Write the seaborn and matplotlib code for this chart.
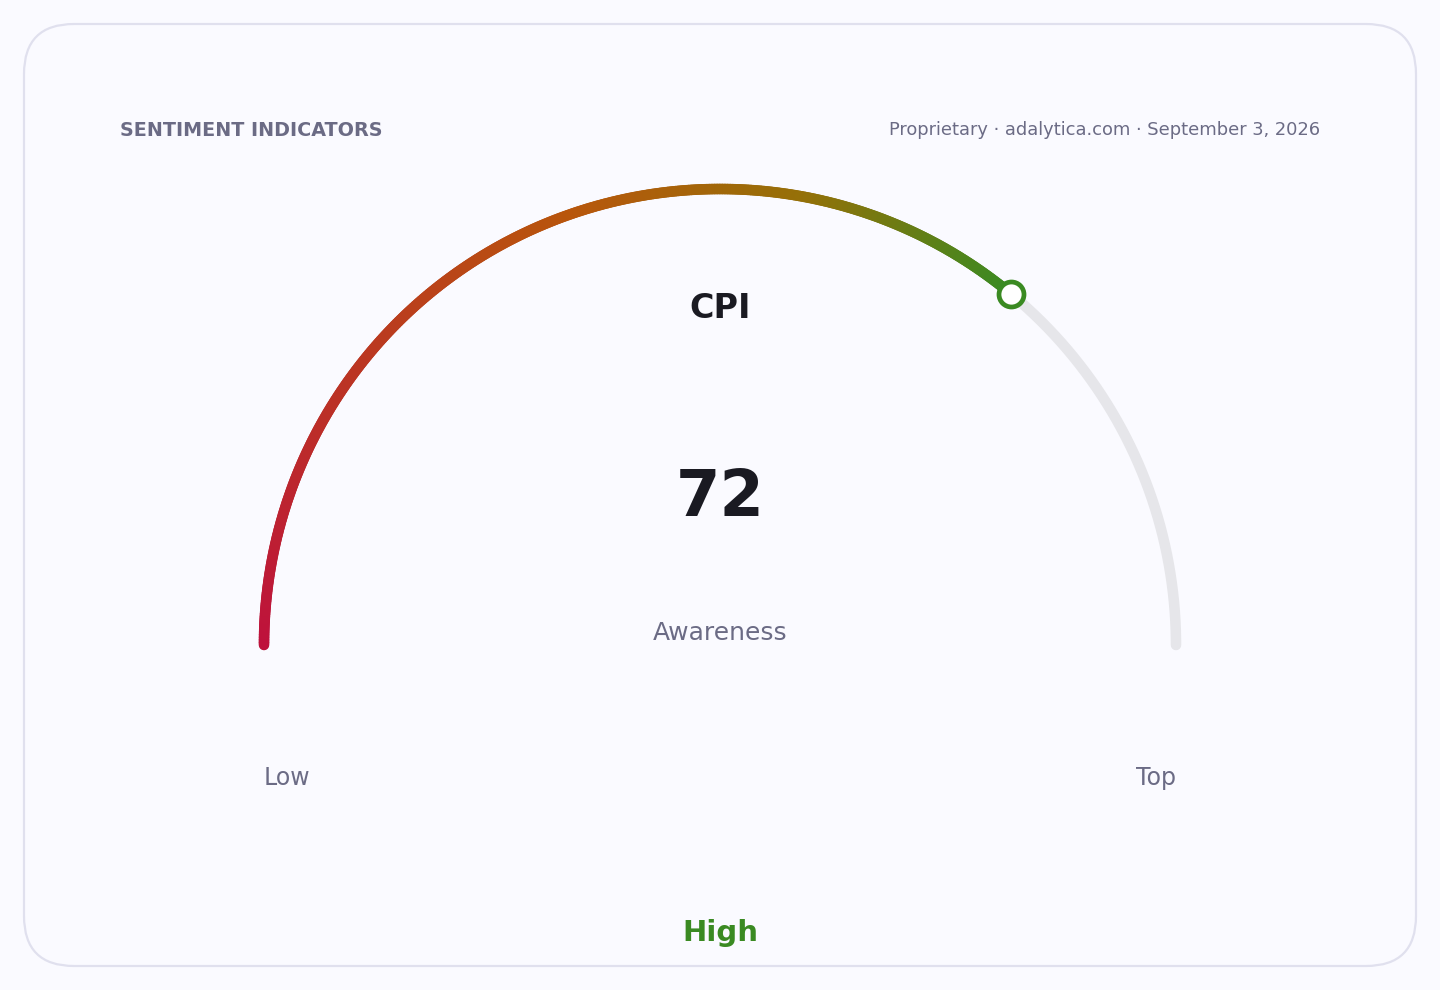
import numpy as np
import pandas as pd
import matplotlib
matplotlib.use("Agg")
import matplotlib.pyplot as plt
from matplotlib.collections import LineCollection
from matplotlib.colors import LinearSegmentedColormap
from matplotlib.patches import FancyBboxPatch
import seaborn as sns

# Gauge data
gauge_title = "CPI"
gauge_value = 72
gauge_min = 0
gauge_max = 100
gauge_label = "Awareness"
band_label = "High"
end_labels = ["Low", "Top"]
header_left = "SENTIMENT INDICATORS"
header_right = "Proprietary \u00b7 adalytica.com \u00b7 September 3, 2026"

# Styling
bg_color = "#fafaff"
muted = "#6b6b85"
dark = "#1a1a22"
green = "#3a8a22"
track_color = "#e6e6ea"
grad_colors = [(0, "#be123c"), (0.55, "#b8560c"), (0.78, "#957008"), (1, green)]

sns.set_theme(style="white")
plt.rcParams['font.family'] = ['DejaVu Sans']
fam = 'DejaVu Sans'

fig = plt.figure(figsize=(14.4, 9.9), dpi=100, facecolor=bg_color)
ax = fig.add_axes([0, 0, 1, 1])
ax.set_xlim(0, 1440)
ax.set_ylim(990, 0)
ax.set_aspect('equal')
ax.axis('off')
ax.set_facecolor(bg_color)

# card
card = FancyBboxPatch((24, 24), 1392, 942, boxstyle="round,pad=0,rounding_size=50",
                      facecolor=bg_color, edgecolor="#e0e0ee", linewidth=1.6, zorder=0)
ax.add_patch(card)

# gauge geometry
cx, cy, r = 720, 645, 456
lw = 7.6

def to_angle(v):
    return np.pi * (1 - (v - gauge_min) / (gauge_max - gauge_min))

# background track via seaborn
t_all = np.linspace(np.pi, 0, 300)
track = pd.DataFrame({"x": cx + r * np.cos(t_all), "y": cy - r * np.sin(t_all)})
sns.lineplot(data=track, x="x", y="y", sort=False, estimator=None, ax=ax,
             color=track_color, linewidth=lw, solid_capstyle='round', zorder=1)

# gradient value arc
end_t = to_angle(gauge_value)
t_val = np.linspace(np.pi, end_t, 400)
px = cx + r * np.cos(t_val)
py = cy - r * np.sin(t_val)
pts = np.column_stack([px, py]).reshape(-1, 1, 2)
segs = np.concatenate([pts[:-1], pts[1:]], axis=1)
cmap = LinearSegmentedColormap.from_list("gauge", grad_colors)
lc = LineCollection(segs, colors=cmap(np.linspace(0, 1, len(segs))),
                    linewidth=lw, capstyle='round', zorder=2)
ax.add_collection(lc)

# marker at value
ax.plot([px[-1]], [py[-1]], marker='o', markersize=18, markerfacecolor='white',
        markeredgecolor=green, markeredgewidth=3.4, zorder=3)

# texts
ax.text(120, 130, header_left, fontsize=13.8, fontweight='bold', color=muted,
        ha='left', va='center', family=fam)
ax.text(1320, 130, header_right, fontsize=12.9, color=muted, ha='right', va='center',
        family=fam)
ax.text(cx, 309, gauge_title, fontsize=24, fontweight='bold', color=dark,
        ha='center', va='center', family=fam)
ax.text(cx, 498, str(gauge_value), fontsize=46, fontweight='bold', color=dark,
        ha='center', va='center', family=fam)
ax.text(cx, 633, gauge_label, fontsize=18, color=muted, ha='center', va='center',
        family=fam)
ax.text(cx - r, 778, end_labels[0], fontsize=17, color=muted, ha='left', va='center',
        family=fam)
ax.text(cx + r, 778, end_labels[1], fontsize=17, color=muted, ha='right', va='center',
        family=fam)
ax.text(cx, 933, band_label, fontsize=21, fontweight='bold', color=green,
        ha='center', va='center', family=fam)

fig.savefig("out.png", dpi=100, facecolor=bg_color)
